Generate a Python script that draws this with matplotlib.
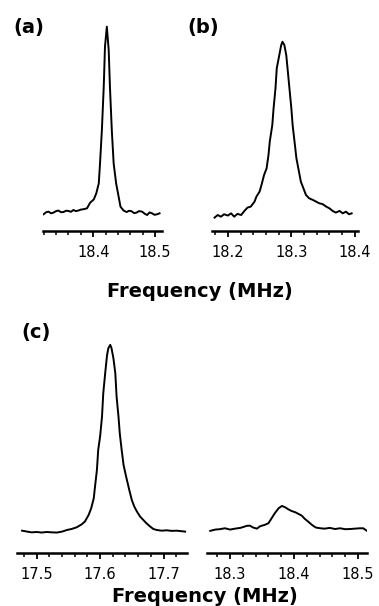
import numpy as np
import matplotlib
matplotlib.use('Agg')
import matplotlib.pyplot as plt
from matplotlib.ticker import MultipleLocator

# (a) spectrum, frequency in MHz and intensity (peak of (c) ~ 1)
freq_a = [18.320, 18.324, 18.328, 18.332, 18.336, 18.340, 18.344, 18.348, 18.352, 18.356,
          18.360, 18.364, 18.368, 18.372, 18.376, 18.380, 18.384, 18.390, 18.395, 18.401,
          18.405, 18.409, 18.411, 18.414, 18.417, 18.419, 18.422, 18.425, 18.427, 18.430,
          18.433, 18.437, 18.441, 18.444, 18.449, 18.454, 18.458, 18.462, 18.466, 18.470,
          18.474, 18.479, 18.483, 18.487, 18.491, 18.495, 18.499, 18.503, 18.507]
int_a = [-0.007, 0.004, 0.007, -0.002, 0.002, 0.010, 0.013, 0.004, 0.005, 0.012,
         0.011, 0.006, 0.016, 0.010, 0.013, 0.018, 0.020, 0.025, 0.055, 0.073,
         0.106, 0.159, 0.267, 0.446, 0.679, 0.894, 1.002, 0.876, 0.679, 0.446,
         0.267, 0.159, 0.088, 0.034, 0.013, 0.005, 0.012, 0.009, -0.001, 0.002,
         0.010, 0.007, -0.004, -0.011, 0.003, -0.002, -0.010, -0.007, -0.002]

# (b) spectrum
freq_b = [18.179, 18.184, 18.189, 18.194, 18.200, 18.205, 18.210, 18.215, 18.221, 18.226,
          18.231, 18.236, 18.242, 18.245, 18.250, 18.253, 18.257, 18.261, 18.264, 18.266,
          18.270, 18.272, 18.275, 18.277, 18.281, 18.284, 18.286, 18.289, 18.292, 18.294,
          18.297, 18.300, 18.302, 18.305, 18.308, 18.311, 18.315, 18.319, 18.323, 18.328,
          18.334, 18.339, 18.344, 18.349, 18.355, 18.360, 18.365, 18.370, 18.376, 18.381,
          18.386, 18.391, 18.395]
int_b = [-0.025, -0.011, -0.020, -0.007, -0.014, -0.002, -0.020, -0.005, -0.011, 0.011,
         0.029, 0.034, 0.061, 0.088, 0.115, 0.151, 0.204, 0.240, 0.312, 0.384,
         0.473, 0.563, 0.670, 0.778, 0.849, 0.903, 0.921, 0.903, 0.849, 0.778,
         0.670, 0.563, 0.473, 0.384, 0.294, 0.240, 0.168, 0.133, 0.097, 0.079,
         0.070, 0.061, 0.052, 0.048, 0.034, 0.025, 0.011, 0.002, 0.011, -0.002,
         0.007, -0.007, -0.002]

# (c) left part, around 17.6 MHz
freq_c1 = [17.477, 17.485, 17.492, 17.500, 17.508, 17.516, 17.524, 17.532, 17.540, 17.548,
           17.555, 17.563, 17.571, 17.576, 17.582, 17.586, 17.590, 17.592, 17.595, 17.597,
           17.600, 17.603, 17.605, 17.608, 17.611, 17.613, 17.616, 17.618, 17.621, 17.624,
           17.626, 17.629, 17.631, 17.634, 17.637, 17.641, 17.646, 17.650, 17.654, 17.658,
           17.663, 17.668, 17.673, 17.679, 17.684, 17.689, 17.697, 17.705, 17.713, 17.721,
           17.729, 17.734]
int_c1 = [-0.004, -0.009, -0.013, -0.011, -0.014, -0.011, -0.013, -0.014, -0.009, 0.000,
          0.005, 0.014, 0.030, 0.045, 0.081, 0.117, 0.170, 0.233, 0.323, 0.430,
          0.502, 0.609, 0.735, 0.842, 0.941, 0.977, 0.995, 0.977, 0.923, 0.842,
          0.717, 0.609, 0.520, 0.430, 0.349, 0.287, 0.215, 0.161, 0.125, 0.099,
          0.072, 0.054, 0.036, 0.018, 0.005, 0.000, -0.004, -0.002, -0.005, -0.004,
          -0.007, -0.009]

# (c) right part, around 18.4 MHz
freq_c2 = [18.269, 18.277, 18.284, 18.292, 18.300, 18.308, 18.316, 18.321, 18.326, 18.331,
           18.336, 18.342, 18.347, 18.354, 18.360, 18.365, 18.370, 18.376, 18.381, 18.386,
           18.391, 18.396, 18.402, 18.407, 18.412, 18.417, 18.422, 18.428, 18.434, 18.441,
           18.448, 18.456, 18.464, 18.472, 18.480, 18.488, 18.495, 18.503, 18.508, 18.514]
int_c2 = [-0.005, 0.002, 0.004, 0.009, 0.002, 0.007, 0.011, 0.016, 0.022, 0.023,
          0.013, 0.007, 0.020, 0.027, 0.036, 0.063, 0.090, 0.117, 0.129, 0.122,
          0.111, 0.102, 0.095, 0.086, 0.077, 0.059, 0.045, 0.027, 0.013, 0.009,
          0.007, 0.011, 0.005, 0.009, 0.004, 0.005, 0.007, 0.009, 0.009, -0.005]

W, H = 379, 606
fig = plt.figure(figsize=(W / 100, H / 100), dpi=100)


def make_ax(x0, x1, ytop, ybot, xlim, ylim):
    ax = fig.add_axes([x0 / W, 1 - ybot / H, (x1 - x0) / W, (ybot - ytop) / H])
    ax.set_xlim(xlim)
    ax.set_ylim(ylim)
    for s in ['left', 'right', 'top']:
        ax.spines[s].set_visible(False)
    ax.spines['bottom'].set_linewidth(1.8)
    ax.set_yticks([])
    ax.xaxis.set_major_locator(MultipleLocator(0.1))
    ax.xaxis.set_minor_locator(MultipleLocator(0.02))
    ax.tick_params(axis='x', which='major', direction='out', length=4, width=1.3,
                   labelsize=10.5, pad=6)
    ax.tick_params(axis='x', which='minor', direction='out', length=3, width=1.1)
    ax.xaxis.set_major_formatter(matplotlib.ticker.FormatStrFormatter('%.1f'))
    ax.patch.set_alpha(0)
    return ax


ax_a = make_ax(43, 162, 20, 231, (18.319, 18.511), (-0.097, 1.038))
ax_a.plot(freq_a, int_a, color='black', lw=1.4)

ax_b = make_ax(212, 358, 20, 231, (18.175, 18.405), (-0.097, 1.038))
ax_b.plot(freq_b, int_b, color='black', lw=1.4)

ax_c1 = make_ax(17, 187, 330, 553, (17.469, 17.737), (-0.124, 1.075))
ax_c1.plot(freq_c1, int_c1, color='black', lw=1.4)

ax_c2 = make_ax(207, 367, 330, 553, (18.264, 18.514), (-0.124, 1.075))
ax_c2.plot(freq_c2, int_c2, color='black', lw=1.4)

lab = dict(fontsize=14, fontweight='bold', va='baseline')
fig.text(13 / W, 1 - 33 / H, '(a)', ha='left', **lab)
fig.text(187 / W, 1 - 33 / H, '(b)', ha='left', **lab)
fig.text(21 / W, 1 - 338 / H, '(c)', ha='left', **lab)
fig.text(200 / W, 1 - 297 / H, 'Frequency (MHz)', ha='center', **lab)
fig.text(205 / W, 1 - 602 / H, 'Frequency (MHz)', ha='center', **lab)

fig.savefig('out.png', dpi=100)
